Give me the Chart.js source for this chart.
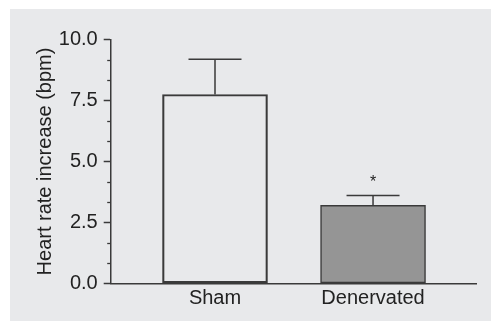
<!DOCTYPE html>
<html><head><meta charset="utf-8">
<script src="https://cdn.jsdelivr.net/npm/chart.js@4"></script>
<style>
html,body{margin:0;padding:0;background:#fff;}
#wrap{position:absolute;left:10px;top:9px;width:481px;height:312px;background:#e8e9eb;}
canvas{display:block;}
</style></head><body>
<div id="wrap"><canvas id="c" width="481" height="312"></canvas></div>
<script>
const categories = ['Sham', 'Denervated'];
const values = [7.75, 3.2];
const errorsUp = [1.45, 0.4];
const significance = ['', '*'];
const barColors = ['rgba(0,0,0,0)', '#959595'];
const yMajorTicks = [0, 2.5, 5, 7.5, 10];
const yTickLabels = ['0.0', '2.5', '5.0', '7.5', '10.0'];
const yMinorTicks = [0.8333, 1.6667, 3.3333, 4.1667, 5.8333, 6.6667, 8.3333, 9.1667];
const yTitle = 'Heart rate increase (bpm)';

const FONT = "'Liberation Sans', Arial, Helvetica, sans-serif";
const INK = '#3a3a3a';
const TEXT = '#222';

const extras = {
  id: 'extras',
  afterDatasetsDraw(chart) {
    const ctx = chart.ctx, xs = chart.scales.x, ys = chart.scales.y;
    ctx.save();
    ctx.strokeStyle = INK;
    ctx.lineWidth = 1.5;
    categories.forEach((c, i) => {
      const cx = xs.getPixelForValue(i + 1);
      const yBar = ys.getPixelForValue(values[i]);
      const yTop = ys.getPixelForValue(values[i] + errorsUp[i]);
      ctx.beginPath();
      ctx.moveTo(cx, yBar);
      ctx.lineTo(cx, yTop);
      ctx.moveTo(cx - 26.5, yTop);
      ctx.lineTo(cx + 26.5, yTop);
      ctx.stroke();
      if (significance[i]) {
        ctx.fillStyle = TEXT;
        ctx.font = '16px ' + FONT;
        ctx.textAlign = 'center';
        ctx.textBaseline = 'middle';
        ctx.fillText(significance[i], cx, yTop - 13);
      }
    });
    ctx.lineWidth = 1.3;
    yMinorTicks.forEach(v => {
      const y = Math.round(ys.getPixelForValue(v)) + 0.5;
      ctx.beginPath();
      ctx.moveTo(ys.right - 3.5, y);
      ctx.lineTo(ys.right, y);
      ctx.stroke();
    });
    ctx.restore();
  }
};

new Chart(document.getElementById('c'), {
  type: 'bar',
  data: {
    datasets: [{
      data: categories.map((c, i) => ({ x: i + 1, y: values[i] })),
      backgroundColor: barColors,
      borderColor: INK,
      borderWidth: 1.5,
      borderSkipped: false,
      barThickness: 105
    }]
  },
  options: {
    responsive: false,
    animation: false,
    events: [],
    layout: { padding: { top: 30.7, right: 14.3, bottom: 0, left: 0 } },
    plugins: { legend: { display: false }, tooltip: { enabled: false } },
    scales: {
      x: {
        type: 'linear',
        offset: false,
        min: 0.34,
        max: 2.656,
        afterBuildTicks: s => { s.ticks = categories.map((c, i) => ({ value: i + 1 })); },
        afterFit: s => { s.height = 37.7; },
        ticks: {
          callback: (v, i) => categories[i],
          font: { family: FONT, size: 20 },
          color: TEXT,
          padding: 3,
          maxRotation: 0,
          autoSkip: false
        },
        grid: { display: false, drawTicks: false, offset: false },
        border: { display: true, color: INK, width: 1.5 }
      },
      y: {
        min: 0,
        max: 10,
        afterBuildTicks: s => { s.ticks = yMajorTicks.map(v => ({ value: v })); },
        afterFit: s => { s.width = 100.7; },
        ticks: {
          callback: (v, i) => yTickLabels[i],
          font: { family: FONT, size: 20 },
          color: TEXT,
          padding: 6
        },
        grid: { drawOnChartArea: false, drawTicks: true, tickLength: 7, tickColor: INK, tickWidth: 1.5 },
        border: { display: true, color: INK, width: 1.5 },
        title: {
          display: true,
          text: yTitle,
          font: { family: FONT, size: 20 },
          color: TEXT,
          padding: { top: 23, bottom: 0 }
        }
      }
    }
  },
  plugins: [extras]
});
</script>
</body></html>
